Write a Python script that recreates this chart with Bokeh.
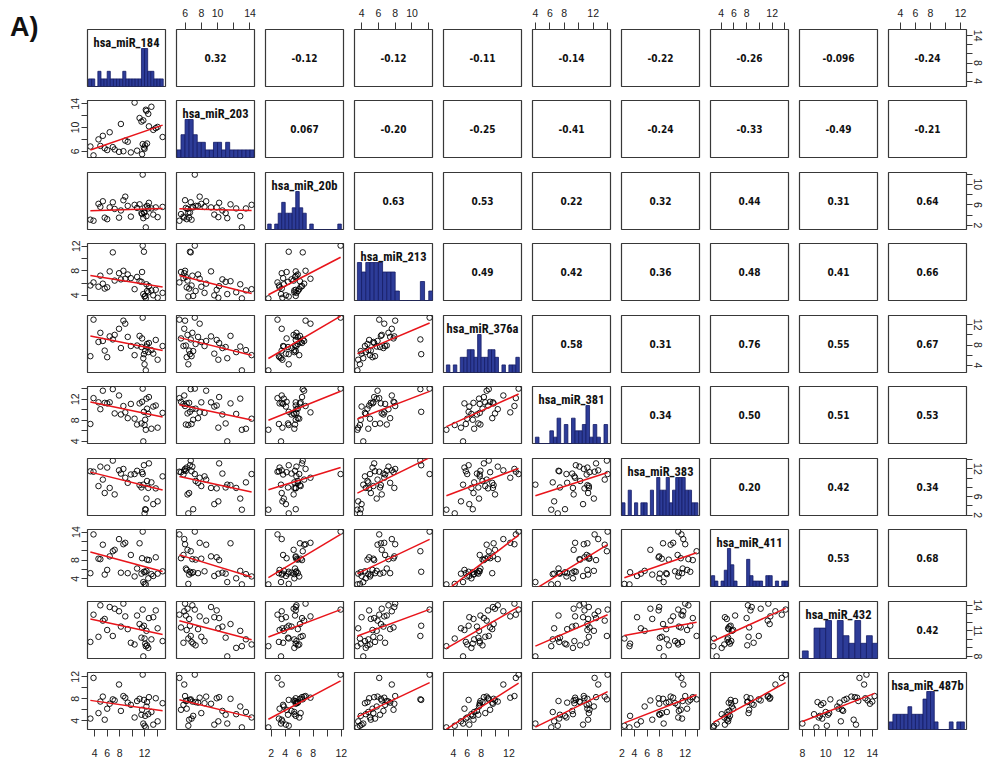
import numpy as np
from bokeh.plotting import figure
from bokeh.layouts import gridplot, row
from bokeh.models import Range1d, LinearAxis, FixedTicker, Grid, Div
from bokeh.core.properties import value
from bokeh.embed import file_html
from bokeh.resources import INLINE

# ---------------- data ----------------
var_names = ["hsa_miR_184", "hsa_miR_203", "hsa_miR_20b", "hsa_miR_213", "hsa_miR_376a",
             "hsa_miR_381", "hsa_miR_383", "hsa_miR_411", "hsa_miR_432", "hsa_miR_487b"]

mir_184 = [12.2, 11.8, 12.0, 10.4, 14.1, 12.6, 3.3, 13.4, 13.1, 12.1, 6.0, 11.5, 14.9, 5.6, 8.2, 12.4, 12.3, 10.8,
           4.6, 11.9, 13.8, 9.8, 9.3, 12.7, 7.2, 11.6, 5.3, 4.9, 11.2, 7.9, 8.9, 6.9, 6.4, 3.8, 8.6, 11.7]
mir_203 = [13.0, 11.2, 6.4, 14.2, 10.1, 12.3, 6.8, 9.6, 13.5, 7.0, 6.2, 11.0, 8.4, 6.5, 10.6, 7.3, 12.8, 6.1,
           8.0, 6.6, 9.9, 5.8, 7.6, 10.2, 6.3, 5.5, 8.6, 6.9, 11.6, 5.9, 7.8, 6.7, 9.2, 5.3, 6.0, 7.2]
mir_20b = [1.6, 3.4, 4.5, 6.0, 3.6, 5.3, 3.1, 4.1, 5.3, 5.5, 3.2, 4.4, 5.6, 3.5, 4.9, 5.8, 3.8, 5.4,
           6.2, 4.5, 5.5, 3.7, 5.8, 6.4, 5.2, 4.2, 6.7, 5.6, 6.1, 3.5, 7.6, 6.5, 5.5, 2.9, 6.9, 11.9]
mir_213 = [3.5, 4.2, 3.8, 5.0, 3.6, 4.5, 5.6, 4.0, 4.8, 3.9, 5.3, 6.2, 4.4, 5.1, 6.6, 4.7, 5.8, 7.0,
           5.4, 11.1, 4.9, 6.8, 7.4, 5.5, 6.4, 7.8, 5.9, 7.2, 6.3, 7.6, 6.7, 11.0, 7.9, 6.1, 8.0, 12.1]
mir_376a = [3.0, 5.4, 4.2, 6.0, 5.1, 6.6, 5.8, 6.3, 7.0, 6.8, 5.6, 7.6, 7.8, 6.9, 7.4, 8.2, 7.7, 7.9,
            8.6, 6.2, 9.0, 7.8, 9.6, 8.4, 10.0, 9.3, 8.8, 10.4, 9.8, 11.2, 12.2, 9.1, 9.7, 13.0, 12.8, 13.4]
mir_381 = [6.2, 4.0, 7.1, 8.3, 6.6, 9.2, 7.3, 10.6, 6.4, 8.1, 11.2, 7.4, 9.4, 11.3, 9.1, 10.2, 12.1, 7.2,
           11.4, 9.6, 10.8, 11.1, 8.4, 12.4, 9.3, 11.5, 13.6, 10.1, 11.2, 12.7, 9.5, 13.9, 11.4, 12.2, 10.7, 14.0]
mir_383 = [3.2, 8.6, 2.4, 10.9, 5.0, 7.9, 11.5, 4.4, 9.1, 3.3, 12.3, 8.0, 10.4, 6.8, 11.0, 9.4, 5.6, 11.6,
           8.3, 12.8, 7.8, 10.8, 9.0, 13.2, 6.5, 11.3, 9.7, 12.5, 8.5, 11.7, 10.1, 13.8, 7.9, 11.4, 12.0, 10.9]
mir_411 = [2.8, 3.3, 2.9, 4.5, 5.1, 4.1, 5.2, 4.6, 5.0, 5.4, 5.9, 5.1, 5.6, 4.9, 5.3, 8.1, 5.7, 6.2,
           8.3, 5.5, 8.6, 9.1, 5.2, 8.0, 10.2, 8.4, 11.3, 8.2, 11.6, 12.5, 11.7, 9.9, 8.8, 13.5, 11.4, 14.1]
mir_432 = [9.2, 8.0, 10.1, 9.4, 11.3, 9.0, 9.7, 12.6, 10.0, 9.5, 11.1, 10.2, 9.8, 12.4, 11.5, 9.3, 11.0, 12.8,
           10.3, 11.6, 13.4, 9.6, 11.2, 12.5, 13.6, 11.4, 12.2, 14.0, 11.8, 13.3, 12.7, 10.4, 13.8, 12.9, 14.2, 13.5]
mir_487b = [2.8, 3.5, 3.1, 4.6, 3.9, 5.2, 4.4, 3.3, 5.6, 4.9, 6.2, 5.1, 7.2, 4.2, 5.8, 7.4, 6.6, 7.6,
            5.4, 7.8, 8.1, 6.9, 7.3, 8.3, 7.7, 6.0, 8.4, 7.5, 8.0, 10.6, 8.2, 7.9, 7.1, 11.8, 8.5, 12.4]

series = [mir_184, mir_203, mir_20b, mir_213, mir_376a, mir_381, mir_383, mir_411, mir_432, mir_487b]

# correlation texts of the upper panels, row by row
corr_text = [
    ["0.32", "-0.12", "-0.12", "-0.11", "-0.14", "-0.22", "-0.26", "-0.096", "-0.24"],
    ["0.067", "-0.20", "-0.25", "-0.41", "-0.24", "-0.33", "-0.49", "-0.21"],
    ["0.63", "0.53", "0.22", "0.32", "0.44", "0.31", "0.64"],
    ["0.49", "0.42", "0.36", "0.48", "0.41", "0.66"],
    ["0.58", "0.31", "0.76", "0.55", "0.67"],
    ["0.34", "0.50", "0.51", "0.53"],
    ["0.20", "0.42", "0.34"],
    ["0.53", "0.68"],
    ["0.42"],
]

# axis ticks and the labels R printed (blank = label dropped)
axis_ticks = [
    [4, 6, 8, 10, 12, 14],
    [6, 8, 10, 12, 14],
    [2, 4, 6, 8, 10, 12],
    [4, 6, 8, 10, 12],
    [4, 6, 8, 10, 12],
    [4, 6, 8, 10, 12, 14],
    [2, 4, 6, 8, 10, 12, 14],
    [4, 6, 8, 10, 12, 14],
    [8, 9, 10, 11, 12, 13, 14],
    [4, 6, 8, 10, 12],
]
col_axis_labels = [  # top / bottom axes
    ["4", "6", "8", "", "12", ""],
    ["6", "8", "10", "", "14"],
    ["2", "4", "6", "8", "", "12"],
    ["4", "6", "8", "10", ""],
    ["4", "6", "8", "", "12"],
    ["4", "6", "8", "", "12", ""],
    ["2", "4", "6", "8", "", "12", ""],
    ["4", "6", "8", "", "12", ""],
    ["8", "", "10", "", "12", "", "14"],
    ["4", "6", "8", "", "12"],
]
row_axis_labels = [  # left / right axes
    ["4", "", "8", "", "", "14"],
    ["6", "", "10", "", "14"],
    ["2", "", "6", "", "10", ""],
    ["4", "", "8", "", "12"],
    ["4", "", "8", "", "12"],
    ["4", "", "8", "", "12", ""],
    ["2", "", "6", "", "", "12", ""],
    ["4", "", "8", "", "", "14"],
    ["8", "", "", "11", "", "", "14"],
    ["4", "", "8", "", "12"],
]

panel_tag = "A)"

# ---------------- styling ----------------
N = len(series)
FW, FH = 78, 57
LABEL_FONT = "Roboto Condensed"
CORR_FONT = "DejaVu Sans Condensed"
HIST_FILL = "#2D3C98"
HIST_LINE = "#141C66"
FRAME = "#383838"
TAG_W = 44

data = [np.asarray(s, dtype=float) for s in series]
ranges = []
for d in data:
    lo, hi = d.min(), d.max()
    pad = 0.04 * (hi - lo)
    ranges.append((lo - pad, hi + pad))


def make_axis(k, labels, side):
    ticks = axis_ticks[k]
    ax = LinearAxis(ticker=FixedTicker(ticks=ticks), bounds=(ticks[0], ticks[-1]))
    ax.major_label_overrides = {t: l for t, l in zip(ticks, labels)}
    ax.axis_line_color = FRAME
    ax.axis_line_width = 1
    ax.major_tick_line_color = FRAME
    ax.major_tick_in = 0
    ax.minor_tick_line_color = None
    ax.major_label_text_font = "Liberation Sans"
    ax.major_label_text_font_size = "10.5px"
    ax.major_label_text_color = "#222222"
    if side in ("left", "right"):
        ax.major_label_orientation = "vertical"
        ax.major_tick_out = 6
        ax.major_label_standoff = 2 if side == "left" else 1
    else:
        ax.major_tick_out = 7
        ax.major_label_standoff = 6 if side == "above" else 12
    return ax


rows = []
for i in range(N):
    prow = []
    for j in range(N):
        if i == j:
            xr, yr = ranges[i], (0, 1.5)
        else:
            xr, yr = ranges[j], ranges[i]
        p = figure(frame_width=FW, frame_height=FH,
                   x_range=Range1d(*xr), y_range=Range1d(*yr),
                   x_axis_location=None, y_axis_location=None,
                   output_backend="svg", toolbar_location=None,
                   min_border_left=(87 - TAG_W) if j == 0 else 5,
                   min_border_right=24 if j == N - 1 else 6,
                   min_border_top=29 if i == 0 else 7,
                   min_border_bottom=36 if i == N - 1 else (8 if i in (1, 3, 5, 7) else 7))
        for r in list(p.center):
            if isinstance(r, Grid):
                r.visible = False
        p.outline_line_color = FRAME
        p.outline_line_width = 1.2
        p.background_fill_color = "white"
        p.border_fill_color = "white"

        if i == j:
            d = data[i]
            edges = np.arange(np.floor(d.min() * 2) / 2, d.max() + 0.5, 0.5)
            counts, edges = np.histogram(d, bins=edges)
            p.quad(left=edges[:-1], right=edges[1:], bottom=0, top=counts / counts.max(),
                   fill_color=HIST_FILL, line_color=HIST_LINE, line_width=0.8)
            p.text(x=[(xr[0] + xr[1]) / 2], y=[1.16], text=[var_names[i]],
                   text_font=value(LABEL_FONT), text_font_style="bold", text_font_size="12.5px",
                   text_align="center", text_baseline="middle", text_color="#111111")
        elif i < j:
            p.text(x=[(xr[0] + xr[1]) / 2], y=[(yr[0] + yr[1]) / 2], text=[corr_text[i][j - i - 1]],
                   text_font=value(CORR_FONT), text_font_style="bold", text_font_size="10px",
                   text_align="center", text_baseline="middle", text_color="#111111")
        else:
            x, y = data[j], data[i]
            p.scatter(x, y, marker="circle", size=5.5, fill_color=None,
                      line_color="black", line_width=0.9)
            slope, icpt = np.polyfit(x, y, 1)
            xs = np.array([x.min(), x.max()])
            p.line(xs, icpt + slope * xs, line_color="#E8141A", line_width=1.5)

        if i == 0 and j % 2 == 1:
            p.add_layout(make_axis(j, col_axis_labels[j], "above"), "above")
        if i == N - 1 and j % 2 == 0:
            p.add_layout(make_axis(j, col_axis_labels[j], "below"), "below")
        if j == 0 and i % 2 == 1:
            p.add_layout(make_axis(i, row_axis_labels[i], "left"), "left")
        if j == N - 1 and i % 2 == 0:
            p.add_layout(make_axis(i, row_axis_labels[i], "right"), "right")
        prow.append(p)
    rows.append(prow)

grid = gridplot(rows, toolbar_location=None)
tag = Div(text='<div style="padding:14px 0 0 10px; font-family:\'Liberation Sans\'; font-weight:bold; '
               'font-size:27px; line-height:1; color:#111111;">' + panel_tag + '</div>',
          width=TAG_W, height=60, styles={"margin": "0", "padding": "0"})
page = row(tag, grid)
open("out.html", "w").write(file_html(page, INLINE))
